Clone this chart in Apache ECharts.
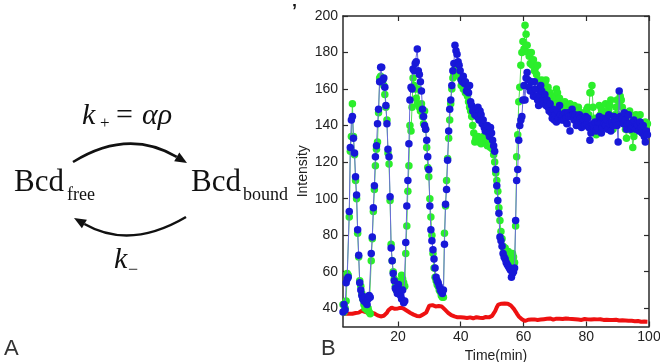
<!DOCTYPE html>
<html><head><meta charset="utf-8">
<script src="https://cdn.jsdelivr.net/npm/echarts@6/dist/echarts.min.js"></script>
<style>html,body{margin:0;padding:0;background:#fff}#c{width:660px;height:362px}</style>
</head><body><div id="c"></div>
<script>
// Sampling times (min) for the green and blue traces
const time = [
2.5,2.83,3.17,3.5,3.83,4.17,4.5,4.83,5.17,5.5,5.83,6.17,6.5,6.83,7.17,
7.5,7.83,8.17,8.5,8.83,9.17,9.5,9.83,10.17,10.5,10.83,11.17,11.5,11.83,12.17,
12.5,12.83,13.17,13.5,13.83,14.17,14.5,14.83,15.17,15.5,15.83,16.17,16.5,16.83,17.17,
17.5,17.83,18.17,18.5,18.83,19.17,19.5,19.83,20.17,20.5,20.83,21.17,21.5,21.83,22.17,
22.5,22.83,23.17,23.5,23.83,24.17,24.5,24.83,25.17,25.5,25.83,26.17,26.5,26.83,27.17,
27.5,27.83,28.17,28.5,28.83,29.17,29.5,29.83,30.17,30.5,30.83,31.17,31.5,31.83,32.17,
32.5,32.83,33.17,33.5,33.83,34.17,34.5,34.83,35.17,35.5,35.83,36.17,36.5,36.83,37.17,
37.5,37.83,38.17,38.5,38.83,39.17,39.5,39.83,40.17,40.5,40.83,41.17,41.5,41.83,42.17,
42.5,42.83,43.17,43.5,43.83,44.17,44.5,44.83,45.17,45.5,45.83,46.17,46.5,46.83,47.17,
47.5,47.83,48.17,48.5,48.83,49.17,49.5,49.83,50.17,50.5,50.83,51.17,51.5,51.83,52.17,
52.5,52.83,53.17,53.5,53.83,54.17,54.5,54.83,55.17,55.5,55.83,56.17,56.5,56.83,57.17,
57.5,57.83,58.17,58.5,58.83,59.17,59.5,59.83,60.17,60.5,60.83,61.17,61.5,61.83,62.17,
62.5,62.83,63.17,63.5,63.83,64.17,64.5,64.83,65.17,65.5,65.83,66.17,66.5,66.83,67.17,
67.5,67.83,68.17,68.5,68.83,69.17,69.5,69.83,70.17,70.5,70.83,71.17,71.5,71.83,72.17,
72.5,72.83,73.17,73.5,73.83,74.17,74.5,74.83,75.17,75.5,75.83,76.17,76.5,76.83,77.17,
77.5,77.83,78.17,78.5,78.83,79.17,79.5,79.83,80.17,80.5,80.83,81.17,81.5,81.83,82.17,
82.5,82.83,83.17,83.5,83.83,84.17,84.5,84.83,85.17,85.5,85.83,86.17,86.5,86.83,87.17,
87.5,87.83,88.17,88.5,88.83,89.17,89.5,89.83,90.17,90.5,90.83,91.17,91.5,91.83,92.17,
92.5,92.83,93.17,93.5,93.83,94.17,94.5,94.83,95.17,95.5,95.83,96.17,96.5,96.83,97.17,
97.5,97.83,98.17,98.5,98.83,99.17,99.5
];

const blue = [
38,42,39, 54,56,57, 93,128,143, 145,133,125, 112,102,83,
69,54,50, 47,45,44, 46,43,42, 45,47,46, 70,79,95,
107,123,129, 141,149,164, 172,172,165, 166,161,151, 141,127,123,
101,73,66, 59,55,51, 50,48,53, 50,47,45, 50,43,44,
76,96,110, 130,154,161, 160,171,170, 174,175,182, 170,168,164,
159,149,145, 140,138,132, 123,116,96, 83,77,72, 67,62,57,
55,54,52, 50,49,48, 50,75,97, 105,121,137, 149,154,162,
170,174,184, 181,179,175, 173,170,165, 164,167,163, 164,159,161,
158,162,153, 151,148,149, 146,149,145, 150,143,148, 146,141,143,
139,137,139, 140,136,134, 139,136,132, 129,126,116, 107,99,92,
79,77,74, 70,68,67, 65,64,63, 62,61,57, 59,60,62,
88,110,116, 132,140,143, 145,154,162, 154,166,169, 165,161,159,
164,159,156, 164,160,156, 154,151,157, 162,159,154, 152,157,151,
154,150,148, 152,147,144, 149,143,146, 142,148,144, 151,146,143,
145,143,147, 144,141,147, 145,137,145, 149,146,143, 146,140,144,
141,146,144, 139,144,143, 140,145,141, 144,139,132, 136,140,141,
139,142,137, 139,142,145, 141,136,139, 144,141,140, 143,138,146,
141,137,142, 140,145,143, 142,140,131, 159,145,142, 144,141,147,
143,138,141, 146,141,138, 140,142,143, 139,138,141, 140,137,142,
139,136,140, 134,131,137, 135
];

const green = [
42,38,40, 44,59,58, 90,126,134, 152,134,124, 110,100,81,
68,55,52, 48,45,42, 40,41,39, 40,38,37, 66,78,93,
105,118,127, 131,147,166, 167,165,165, 162,157,150, 143,125,119,
99,75,66, 60,56,52, 50,49,52, 51,55,58, 56,54,52,
70,85,104, 118,140,137, 150,166,162, 160,155,152, 160,150,148,
152,145,141, 148,138,128, 117,112,100, 90,80,70, 62,57,55,
53,52,50, 49,47,46, 46,81,96, 110,122,133, 143,152,160,
166,168,171, 172,168,170, 167,166,162, 165,160,163, 158,160,156,
153,150,148, 145,140,136, 131,133,132, 134,131,133, 130,132,134,
131,133,130, 129,132,130, 128,130,127, 124,120,114, 110,104,95,
88,82,78, 74,72,73, 70,68,71, 69,67,66, 70,68,65,
85,123,135, 153,161,173, 180,186,182, 195,190,184, 180,178,174,
180,173,176, 170,172,168, 173,165,164, 162,165,158, 160,163,165,
157,161,154, 158,152,156, 150,155,149, 160,158,152, 155,148,150,
152,147,153, 149,145,150, 147,152,149, 145,148,151, 144,146,149,
150,146,143, 147,145,144, 142,146,149, 150,146,158, 158,162,150,
141,144,135, 140,144,151, 146,149,144, 140,146,152, 147,143,149,
151,154,144, 138,142,146, 150,154,146, 152,156,154, 150,146,142,
138,133,140, 144,148,143, 137,128,134, 140,146,143, 145,139,146,
141,136,139, 141,142,140, 141
];

// Sampling times (min) for the red trace
const redTime = [
2.5,3,3.5,4,4.5,5,5.5,6,6.5,7,7.5,8,8.5,9,9.5,10,10.5,11,11.5,12,
12.5,13,13.5,14,14.5,15,15.5,16,16.5,17,17.5,18,18.5,19,19.5,20,20.5,21,21.5,22,
22.5,23,23.5,24,24.5,25,25.5,26,26.5,27,27.5,28,28.5,29,29.5,30,30.5,31,31.5,32,
32.5,33,33.5,34,34.5,35,35.5,36,36.5,37,37.5,38,38.5,39,39.5,40,40.5,41,41.5,42,
42.5,43,43.5,44,44.5,45,45.5,46,46.5,47,47.5,48,48.5,49,49.5,50,50.5,51,51.5,52,
52.5,53,53.5,54,54.5,55,55.5,56,56.5,57,57.5,58,58.5,59,59.5,60,60.5,61,61.5,62,
62.5,63,63.5,64,64.5,65,65.5,66,66.5,67,67.5,68,68.5,69,69.5,70,70.5,71,71.5,72,
72.5,73,73.5,74,74.5,75,75.5,76,76.5,77,77.5,78,78.5,79,79.5,80,80.5,81,81.5,82,
82.5,83,83.5,84,84.5,85,85.5,86,86.5,87,87.5,88,88.5,89,89.5,90,90.5,91,91.5,92,
92.5,93,93.5,94,94.5,95,95.5,96,96.5,97,97.5,98,98.5,99,99.5
];

const red = [
37,36.5, 37,37.5, 37,37.5, 37,37.6, 37.4,38, 37.6,38.4, 38.6,38.4, 38,37.6, 37.4,37.2, 37.5,37.6,
37.1,36.6, 36.1,35.8, 35.5,35.6, 35.9,36.6, 37.5,39, 39.9,40.3, 40.1,39.7, 39.5,39.9, 40.1,40.3, 40,39.6,
39.2,38.5, 37.9,37.4, 37,36.5, 36.2,35.8, 35.5,35.6, 35.9,36.6, 37.1,37.6, 38.2,41.4, 42,41.7, 41.4,41,
40.8,41.2, 41.3,40.9, 40.2,39.2, 38.3,37.5, 36.8,36.2, 35.8,35.5, 35.2,35, 34.8,35, 34.7,34.9, 35.1,34.7,
34.6,35, 34.8,34.5, 34.9,35.1, 34.7,34.8, 35,34.6, 34.9,35.2, 34.8,35, 35.2,35.8, 36.8,38.5, 40.5,42,
43,42.5, 42.2,42.6, 42.3,42.5, 42,41.5, 40.5,39.5, 38.2,36.8, 35.5,34.5, 34,33.2, 33,33.4, 33.7,33.3,
33.8,33.5, 33.9,34.2, 33.6,34, 33.8,34.3, 34,33.7, 34.2,33.9, 34.4,34, 33.8,34.1, 34.3,33.9, 34.2,34.5,
34.1,33.8, 34.4,34.6, 34.2,33.9, 34.1,33.7, 34,34.3, 33.8,34, 33.6,33.9, 34.1,33.7, 33.9,34.2, 33.8,33.6,
34,33.7, 33.9,34.2, 34,33.8, 33.6,33.9, 33.7,34, 33.5,33.8, 33.6,33.4, 33.7,33.5, 33.3,33.6, 33.4,33.1,
33.3,33, 33.2,32.9, 33.1,32.8, 32.9,32.7, 33,32.8, 32.6,32.9, 32.7,32.5,
32.6
];

const xTicks = [20, 40, 60, 80, 100];
const yTicks = [40, 60, 80, 100, 120, 140, 160, 180, 200];
const xLabel = 'Time(min)';
const yLabel = 'Intensity';

const frameColor = '#2a2a2a';
const sans = '"Liberation Sans", Arial, sans-serif';
const serif = '"Liberation Serif", "Times New Roman", serif';
const axisLine = {show: true, onZero: false, lineStyle: {color: frameColor, width: 1.5}};
const tickX = {show: true, inside: true, length: 5, customValues: xTicks, lineStyle: {color: frameColor, width: 1.2}};
const tickY = {show: true, inside: true, length: 5, customValues: yTicks, lineStyle: {color: frameColor, width: 1.2}};

function pairs(xs, ys) { return xs.map((x, i) => [x, ys[i]]); }

function txt(x, y, text, font, fill) {
  return {
    type: 'text', x: x, y: y, silent: true,
    style: {text: text, font: font, fill: fill || '#111', textVerticalAlign: 'middle', verticalAlign: 'middle', textAlign: 'left', align: 'left'}
  };
}

const option = {
  animation: false,
  backgroundColor: '#fff',
  grid: {left: 343, right: 11, top: 16, bottom: 35.5, containLabel: false, outerBoundsMode: 'none'},
  xAxis: [
    {type: 'value', min: 2.5, max: 100, position: 'bottom', axisLine: axisLine, axisTick: tickX,
     axisLabel: {customValues: xTicks, fontSize: 14, color: '#222', fontFamily: sans, margin: 4},
     splitLine: {show: false},
     name: xLabel, nameLocation: 'middle', nameGap: 19,
     nameTextStyle: {fontSize: 14, color: '#222', fontFamily: sans, verticalAlign: 'top'}},
    {type: 'value', min: 2.5, max: 100, position: 'top', axisLine: axisLine, axisTick: tickX,
     axisLabel: {show: false}, splitLine: {show: false}}
  ],
  yAxis: [
    {type: 'value', min: 30, max: 200, position: 'left', axisLine: axisLine, axisTick: tickY,
     axisLabel: {customValues: yTicks, fontSize: 14, color: '#222', fontFamily: sans, margin: 5},
     splitLine: {show: false},
     name: yLabel, nameLocation: 'middle', nameGap: 33,
     nameTextStyle: {fontSize: 14, color: '#222', fontFamily: sans}},
    {type: 'value', min: 30, max: 200, position: 'right', axisLine: axisLine, axisTick: tickY,
     axisLabel: {show: false}, splitLine: {show: false}}
  ],
  series: [
    {type: 'line', name: 'red', data: pairs(redTime, red), showSymbol: false, symbol: 'none',
     lineStyle: {color: '#ee1111', width: 4}, z: 1},
    {type: 'line', name: 'green', data: pairs(time, green), symbol: 'circle', symbolSize: 7.5,
     itemStyle: {color: '#2bee2b'}, lineStyle: {color: '#55dd55', width: 1}, z: 2},
    {type: 'line', name: 'blue', data: pairs(time, blue), symbol: 'circle', symbolSize: 7.5,
     itemStyle: {color: '#1818d8'}, lineStyle: {color: '#6a6adc', width: 1}, z: 3}
  ],
  graphic: {elements: [
    txt(82, 116, 'k', 'italic 30px ' + serif),
    txt(100, 124, '+', '17px ' + serif),
    txt(116, 116, '=', '30px ' + serif),
    txt(142, 116, 'αρ', 'italic 30px ' + serif),
    txt(14, 183, 'Bcd', '31px ' + serif),
    txt(67, 195, 'free', '18px ' + serif),
    txt(191, 183, 'Bcd', '31px ' + serif),
    txt(243, 195, 'bound', '18px ' + serif),
    txt(114, 260, 'k', 'italic 30px ' + serif),
    txt(128, 270, '\u2212', '18px ' + serif),
    {type: 'bezierCurve', silent: true,
     shape: {x1: 73, y1: 162, cpx1: 128, cpy1: 128, x2: 176.7, y2: 156.9},
     style: {stroke: '#111', lineWidth: 2.5, fill: null}},
    {type: 'polygon', silent: true,
     shape: {points: [[187, 163], [174.2, 161.2], [179.3, 152.6]]},
     style: {fill: '#111'}},
    {type: 'bezierCurve', silent: true,
     shape: {x1: 186, y1: 217, cpx1: 130, cpy1: 250, x2: 84.4, y2: 224},
     style: {stroke: '#111', lineWidth: 2.5, fill: null}},
    {type: 'polygon', silent: true,
     shape: {points: [[74, 218], [86.9, 219.7], [81.9, 228.3]]},
     style: {fill: '#111'}},
    txt(4, 349, 'A', '22px ' + sans, '#333'),
    txt(321, 349, 'B', '22px ' + sans, '#333'),
    txt(292, 12, '\u2019', 'bold 18px ' + sans)
  ]}
};

const chart = echarts.init(document.getElementById('c'), null, {renderer: 'canvas'});
chart.setOption(option);
</script></body></html>
